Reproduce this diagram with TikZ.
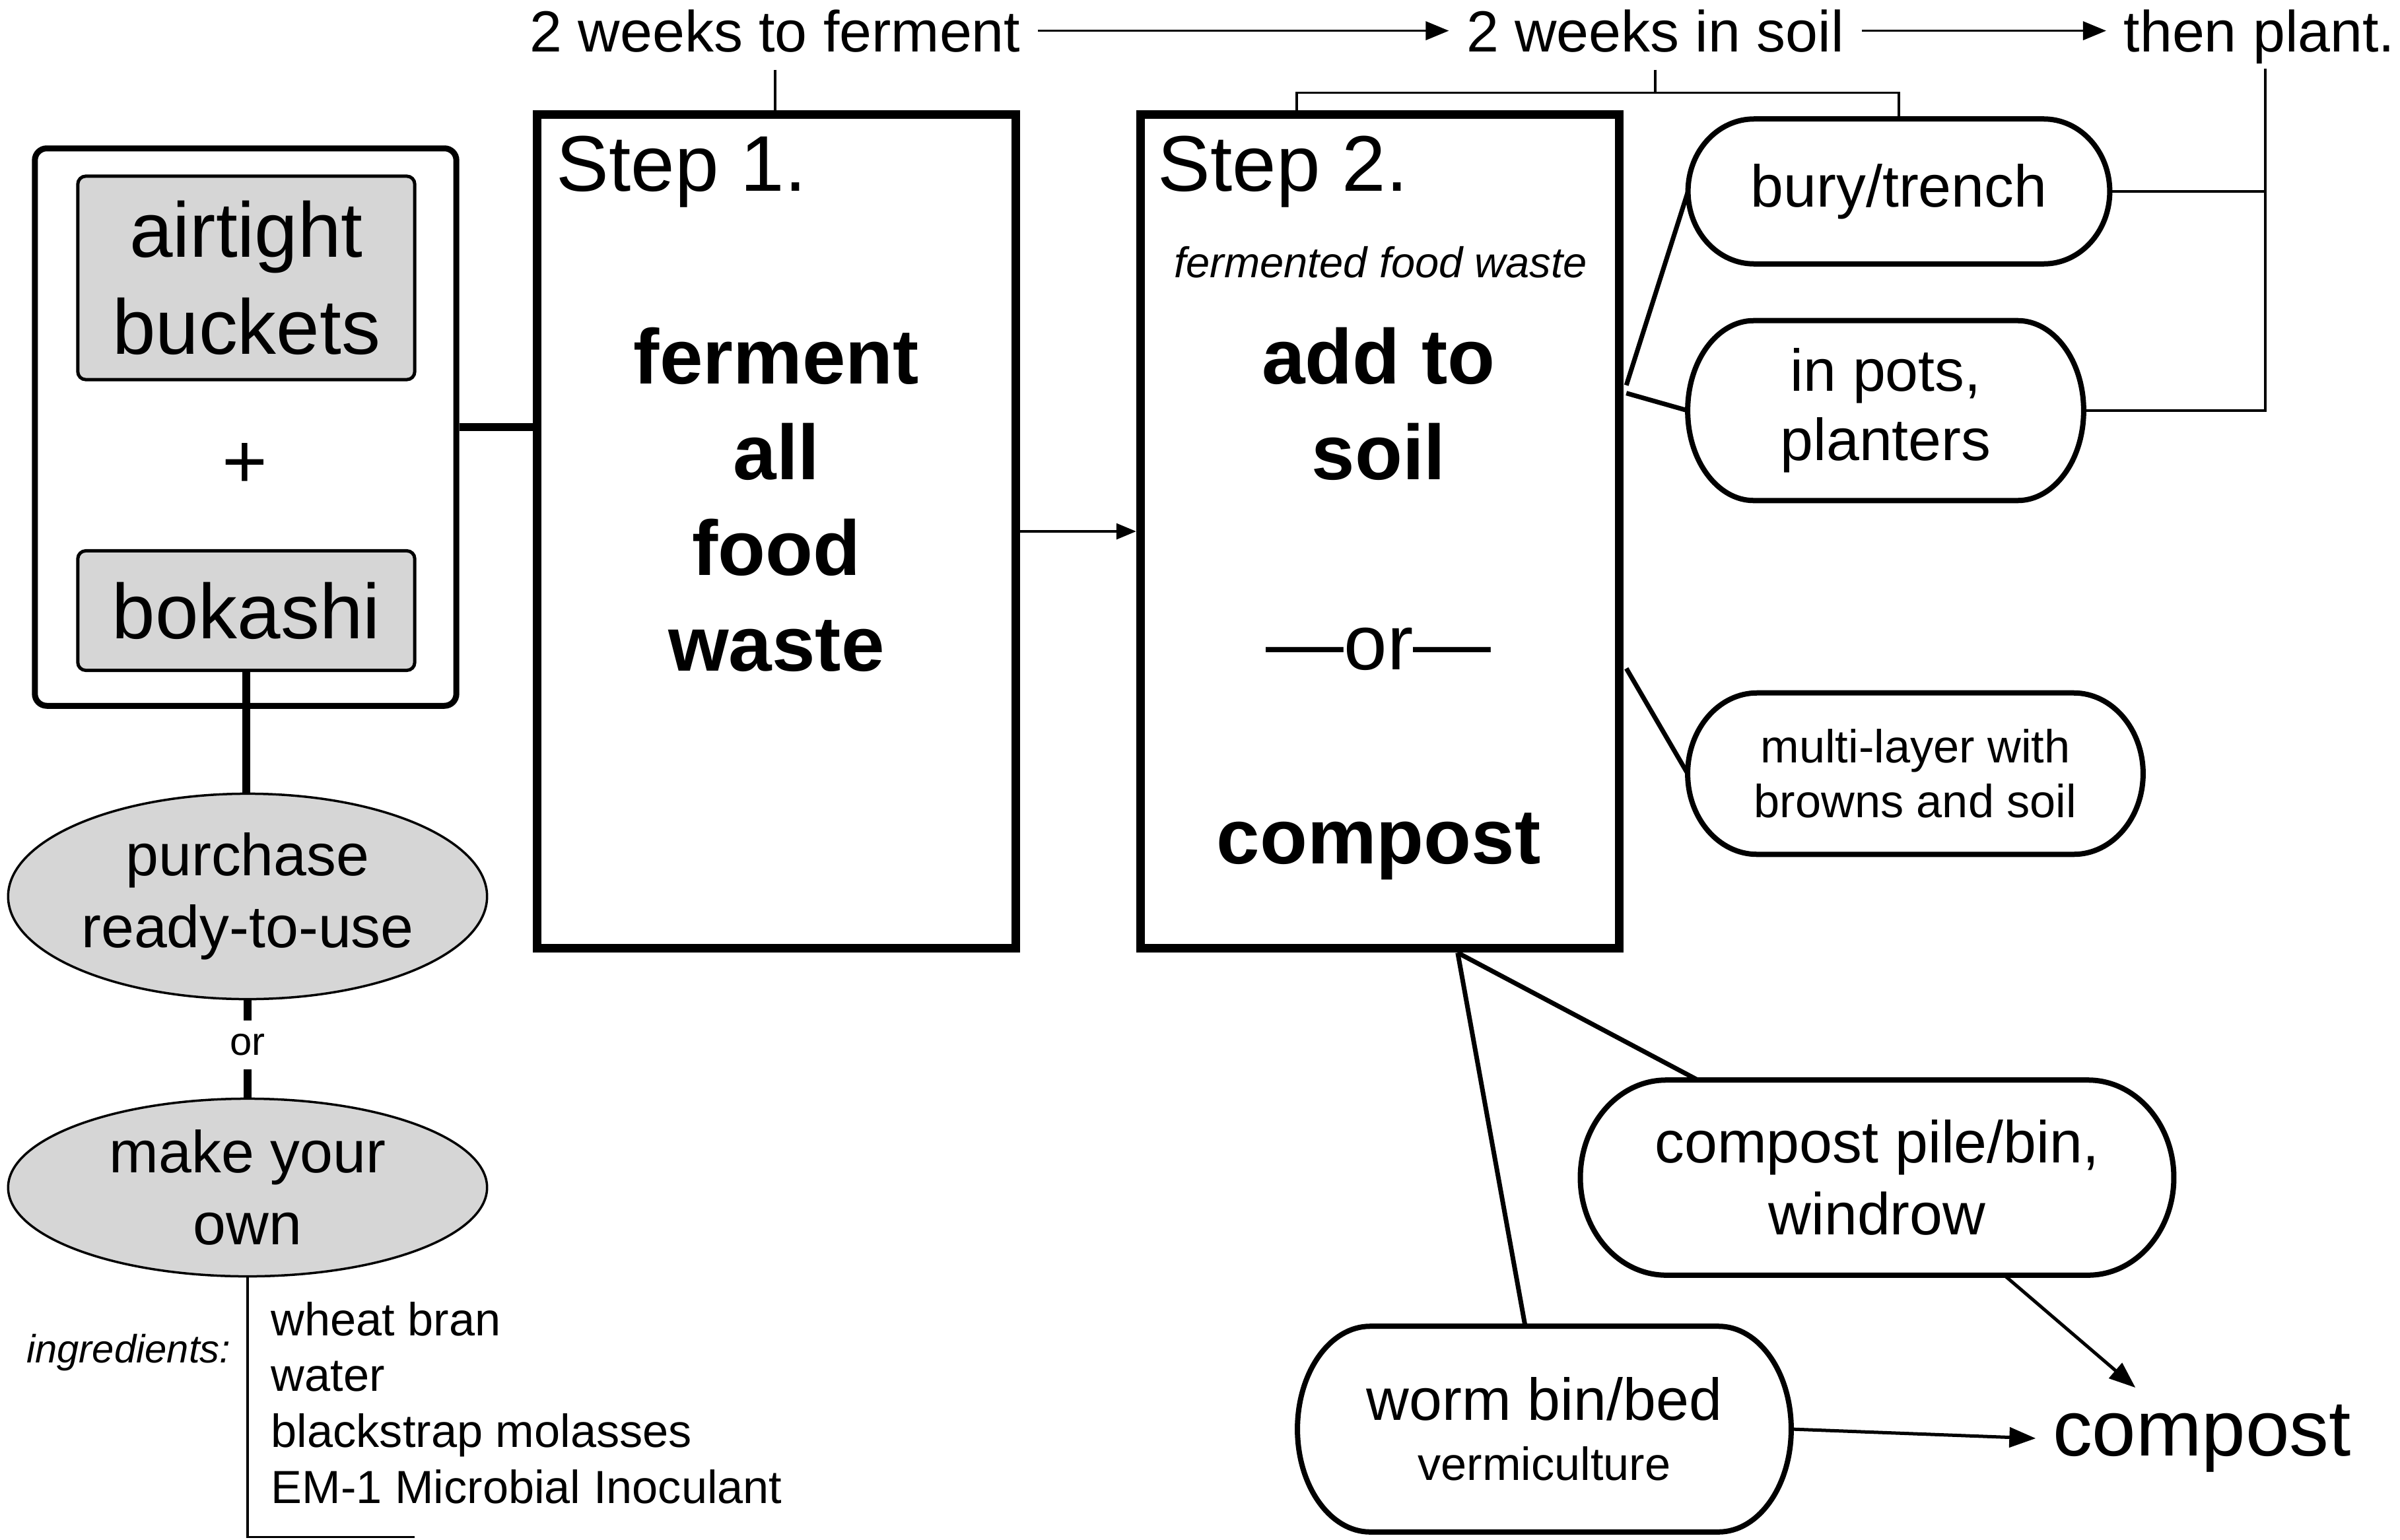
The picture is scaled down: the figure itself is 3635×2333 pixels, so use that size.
\documentclass[tikz,border=0pt]{standalone}
\usepackage{fontspec}
\setmainfont{Liberation Sans}
\usetikzlibrary{shapes.geometric,arrows.meta,calc}
\definecolor{boxgray}{HTML}{D6D6D6}
\newcommand\fsz[2]{\fontsize{#1}{#2}\selectfont}
% outline of a pill node with elliptical ends: #1 node name, #2 end width (cm)
\newcommand\pilloutline[2]{%
  \draw[line width=0.08cm] let \p1=(#1.north west), \p2=(#1.south east), \n1={(\y1-\y2)/2} in
    ($(#1.north west)+(#2cm,0)$) -- ($(#1.north east)+(-#2cm,0)$)
    arc[start angle=90,end angle=-90,x radius=#2cm,y radius=\n1]
    -- ($(#1.south west)+(#2cm,0)$)
    arc[start angle=270,end angle=90,x radius=#2cm,y radius=\n1] -- cycle;}
\begin{document}
\begin{tikzpicture}[x=0.01cm,y=-0.01cm,
  stepbox/.style={draw,line width=0.13cm,minimum width=7.25cm,minimum height=12.63cm,inner sep=0},
  pill/.style={align=center,inner sep=0,font=\fsz{25.5}{30.5}},
  grayoval/.style={ellipse,draw,line width=0.035cm,fill=boxgray,minimum width=7.25cm,inner sep=0,align=center,font=\fsz{25.5}{31}},
  graybox/.style={draw,line width=0.05cm,fill=boxgray,rounded corners=0.12cm,minimum width=5.1cm,inner sep=0,align=center,font=\fsz{33.5}{41.8}},
  thinln/.style={line width=0.035cm},
  heavyln/.style={line width=0.12cm},
  midln/.style={line width=0.07cm},
  toptext/.style={font=\fsz{25}{30},anchor=base,inner sep=0.26cm},
  bigtip/.style={-{Triangle[length=0.35cm,width=0.28cm]}}
]
\useasboundingbox (0,0) rectangle (3635,2333);

% top timeline
\node[toptext] (t1) at (1174,78) {2 weeks to ferment};
\node[toptext] (t2) at (2507,78) {2 weeks in soil};
\node[toptext] (t3) at (3422,78) {then plant.};
\draw[thinln,bigtip] (t1.east) -- (t2.west);
\draw[thinln,bigtip] (t2.east) -- (t2.east -| t3.west);

% step boxes
\node[stepbox] (s1) at (1176,805) {};
\node[stepbox] (s2) at (2090,805) {};
\node[anchor=base west,inner sep=0,font=\fsz{34}{40}] (l1) at (842,289) {Step 1.};
\node[anchor=base west,inner sep=0,font=\fsz{34}{40}] (l2) at (1753,289) {Step 2.};
\node[font=\bfseries\fsz{33.5}{41.2},align=center,inner sep=0] (w1) at (1176,757) {ferment\\all\\food\\waste};
\node[font=\itshape\fsz{18.5}{22},anchor=base,inner sep=0] (ff) at (2091,420) {fermented food waste};
\node[font=\bfseries\fsz{33.5}{41.2},align=center,inner sep=0] (w2) at (2088,612) {add to\\soil};
\node[font=\fsz{33.5}{40},anchor=base,inner sep=0] (orr) at (2088,1014) {—or—};
\node[font=\bfseries\fsz{33.5}{40},anchor=base,inner sep=0] (cp) at (2088,1308) {compost};

\draw[thinln] (t1.south) -- (t1.south |- s1.north);
\draw[thinln,-{Triangle[length=0.3cm,width=0.24cm]}] (s1.east) -- (s2.west);

% left group
\node[draw,line width=0.09cm,rounded corners=0.18cm,minimum width=6.38cm,minimum height=8.44cm] (outer) at (372,647) {};
\node[graybox,minimum height=3.08cm] (air) at (373,421) {airtight\\buckets};
\node[font=\fsz{33.5}{40}] (plus) at (371,705) {+};
\node[graybox,minimum height=1.81cm] (bok) at (373,925) {bokashi};
\draw[heavyln] (outer.east) -- (outer.east -| s1.west);

\node[grayoval,minimum height=3.11cm] (pur) at (375,1358) {purchase\\ready-to-use};
\node[grayoval,minimum height=2.69cm] (mk) at (375,1799) {make your\\own};
\draw[heavyln] (bok.south) -- (bok.south |- pur.north);
\node[font=\fsz{17}{20},inner xsep=0.05cm,inner ysep=0.2cm] (or1) at (375,1583) {or};
\draw[heavyln] (pur.south) -- (or1.north);
\draw[heavyln] (or1.south) -- (mk.north);

\coordinate (ib) at ($(mk.south)+(0,393)$);
\coordinate (ie) at ($(ib)+(253,0)$);
\draw[thinln] (mk.south) -- (ib) -- (ie);
\node[font=\itshape\fsz{17}{20},anchor=east,inner sep=0] (ing) at (350,2049) {ingredients:};
\node[font=\fsz{20}{24.1},align=left,anchor=west,inner sep=0] (list) at (410,2125) {wheat bran\\water\\blackstrap molasses\\EM-1 Microbial Inoculant};

% right nodes
\node[pill,minimum width=6.37cm,minimum height=2.18cm] (bury) at (2876,290) {bury/trench};
\node[pill,minimum width=5.98cm,minimum height=2.71cm,font=\fsz{25.5}{30}] (pots) at (2856,622) {in pots,\\planters};
\node[pill,minimum width=6.88cm,minimum height=2.43cm,font=\fsz{20}{23.5}] (multi) at (2901,1172) {multi-layer with\\browns and soil};
\node[pill,minimum width=8.97cm,minimum height=2.94cm,font=\fsz{25.5}{31}] (pile) at (2843,1784) {compost pile/bin,\\windrow};
\node[pill,minimum width=7.46cm,minimum height=3.10cm,font=\fsz{25.5}{26}] (worm) at (2339,2165) {worm bin/bed\\\fsz{20}{24}vermiculture};
\pilloutline{bury}{1.0}
\pilloutline{pots}{1.0}
\pilloutline{multi}{1.05}
\pilloutline{pile}{1.3}
\pilloutline{worm}{1.1}
\node[font=\fsz{34}{40},inner sep=0.25cm] (cfin) at (3335,2179) {compost};

\draw[midln] ($(s2.north east)+(4,417)$) -- (bury.west);
\draw[midln] ($(s2.north east)+(4,429)$) -- (pots.west);
\draw[midln] ($(s2.north east)+(4,846)$) -- (multi.west);
\coordinate (sb) at ($(s2.south west)+(487,0)$);
\draw[midln] (sb) -- ($(pile.north west)+(178,0)$);
\draw[midln] (sb) -- ($(worm.north west)+(345,0)$);

% brackets
\coordinate (j2) at ($(t2.south)+(0,35)$);
\draw[thinln] (t2.south) -- (j2);
\draw[thinln] ($(s2.north west)+(243,0)$) |- (j2) -| (bury.north);
\coordinate (rt) at ($(t3.base)+(9,26)$);
\draw[thinln] (rt) -- (rt |- pots.east) -- (pots.east);
\draw[thinln] (bury.east) -- (bury.east -| rt);

% to compost
\draw[line width=0.05cm,-{Triangle[length=0.4cm,width=0.3cm]}] ($(pile.south west)+(642,0)$) -- ($(cfin.north west)+(151,0)$);
\draw[line width=0.05cm,-{Triangle[length=0.4cm,width=0.3cm]}] (worm.east) -- (cfin.west);
\end{tikzpicture}
\end{document}
